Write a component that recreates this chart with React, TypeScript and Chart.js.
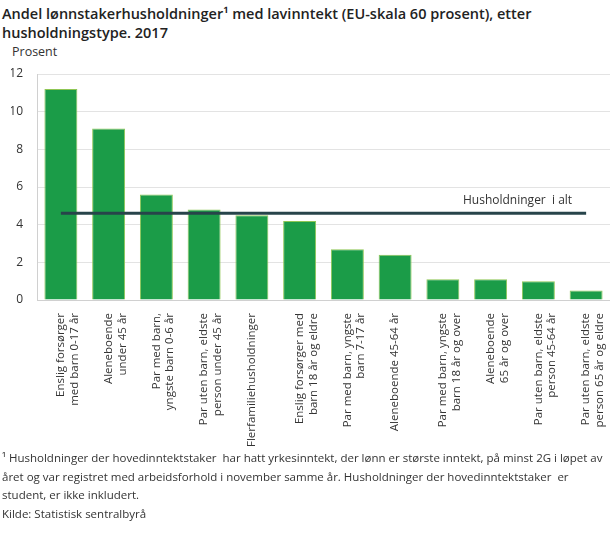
import { useEffect, useRef } from "react";
import Chart from "chart.js/auto";

const categories: (string | string[])[] = [
    ["Enslig forsørger", "med barn 0-17 år"],
    ["Aleneboende", "under 45 år"],
    ["Par med barn,", "yngste barn 0-6 år"],
    ["Par uten barn, eldste", "person under 45 år"],
    "Flerfamiliehusholdninger",
    ["Enslig forsørger med", "barn 18 år og eldre"],
    ["Par med barn, yngste", "barn 7-17 år"],
    "Aleneboende 45-64 år",
    ["Par med barn, yngste", "barn 18 år og over"],
    ["Aleneboende", "65 år og over"],
    ["Par uten barn, eldste", "person 45-64 år"],
    ["Par uten barn, eldste", "person 65 år og eldre"],
];

const lowIncomeShare = [11.2, 9.1, 5.6, 4.8, 4.5, 4.2, 2.7, 2.4, 1.1, 1.1, 1.0, 0.5];
const allHouseholds = [4.6, 4.6, 4.6, 4.6, 4.6, 4.6, 4.6, 4.6, 4.6, 4.6, 4.6, 4.6];
const allHouseholdsLabel = "Husholdninger  i alt";
const yMax = 12;
const yStep = 2;

const FONT = "'Open Sans', sans-serif";

const lineLabel = {
    id: "lineLabel",
    afterDatasetsDraw(chart: any) {
        const meta = chart.getDatasetMeta(1);
        const last = meta.data[meta.data.length - 1];
        if (!last) return;
        const ctx = chart.ctx;
        ctx.save();
        ctx.font = `12px ${FONT}`;
        ctx.fillStyle = "#333";
        ctx.textAlign = "right";
        ctx.textBaseline = "alphabetic";
        ctx.fillText(allHouseholdsLabel, last.x - 14, last.y - 9);
        ctx.restore();
    },
};

function LowIncomeChart() {
    const canvasRef = useRef<HTMLCanvasElement | null>(null);
    const chartRef = useRef<Chart | null>(null);

    useEffect(() => {
        if (!canvasRef.current) return;
        if (chartRef.current) { chartRef.current.destroy(); }

        chartRef.current = new Chart(canvasRef.current, {
            type: "bar",
            data: {
                labels: categories,
                datasets: [
                    {
                        type: "bar",
                        label: "Andel",
                        data: lowIncomeShare,
                        backgroundColor: "#1b9c48",
                        borderColor: "#8fc655",
                        borderWidth: 1,
                        barPercentage: 0.69,
                        categoryPercentage: 1,
                        order: 1,
                    },
                    {
                        type: "line",
                        label: allHouseholdsLabel,
                        data: allHouseholds,
                        borderColor: "#27444a",
                        borderWidth: 3,
                        pointRadius: 0,
                        fill: false,
                        order: 0,
                    },
                ],
            },
            options: {
                responsive: true,
                maintainAspectRatio: false,
                animation: false,
                layout: { padding: { top: 10, left: 11, right: 0, bottom: 0 } },
                plugins: {
                    legend: { display: false },
                    tooltip: { enabled: false },
                },
                scales: {
                    x: {
                        grid: { display: false },
                        border: { display: true, color: "#d0d0d0" },
                        ticks: {
                            color: "#333",
                            font: { family: FONT, size: 11.5 },
                            minRotation: 90,
                            maxRotation: 90,
                            autoSkip: false,
                            padding: 5,
                        },
                        afterFit: (s: any) => {
                            s.height = 170;
                            s.paddingLeft = 0;
                            s.paddingRight = 0;
                        },
                    },
                    y: {
                        min: 0,
                        max: yMax,
                        grid: { color: "#e3e3e3", drawTicks: false },
                        border: { display: true, color: "#d0d0d0" },
                        ticks: {
                            stepSize: yStep,
                            color: "#333",
                            font: { family: FONT, size: 12 },
                            padding: 14,
                        },
                        afterFit: (s: any) => {
                            s.width = 26;
                            s.paddingTop = 0;
                            s.paddingBottom = 0;
                        },
                    },
                },
            },
            plugins: [lineLabel],
        });

        return () => {
            if (chartRef.current) {
                chartRef.current.destroy();
                chartRef.current = null;
            }
        };
    }, []);

    return (
        <div style={{ position: "absolute", left: 0, top: 64, width: 610, height: 406 }}>
            <canvas ref={canvasRef} />
        </div>
    );
}

export default function App() {
    return (
        <div style={{ position: "absolute", left: 0, top: 0, width: 610, height: 538, background: "#fff", fontFamily: FONT, color: "#333" }}>
            <div style={{ position: "absolute", left: 2, top: 4, fontSize: 14.5, fontWeight: 600, lineHeight: "19px", color: "#222", whiteSpace: "pre" }}>
                {"Andel lønnstakerhusholdninger¹ med lavinntekt (EU-skala 60 prosent), etter\nhusholdningstype. 2017"}
            </div>
            <div style={{ position: "absolute", left: 12, top: 43, fontSize: 12.5 }}>Prosent</div>
            <LowIncomeChart />
            <div style={{ position: "absolute", left: 2, top: 449, fontSize: 11.5, lineHeight: "18.7px", whiteSpace: "pre" }}>
                {"¹ Husholdninger der hovedinntektstaker  har hatt yrkesinntekt, der lønn er største inntekt, på minst 2G i løpet av\nåret og var registret med arbeidsforhold i november samme år. Husholdninger der hovedinntektstaker  er\nstudent, er ikke inkludert.\nKilde: Statistisk sentralbyrå"}
            </div>
        </div>
    );
}
